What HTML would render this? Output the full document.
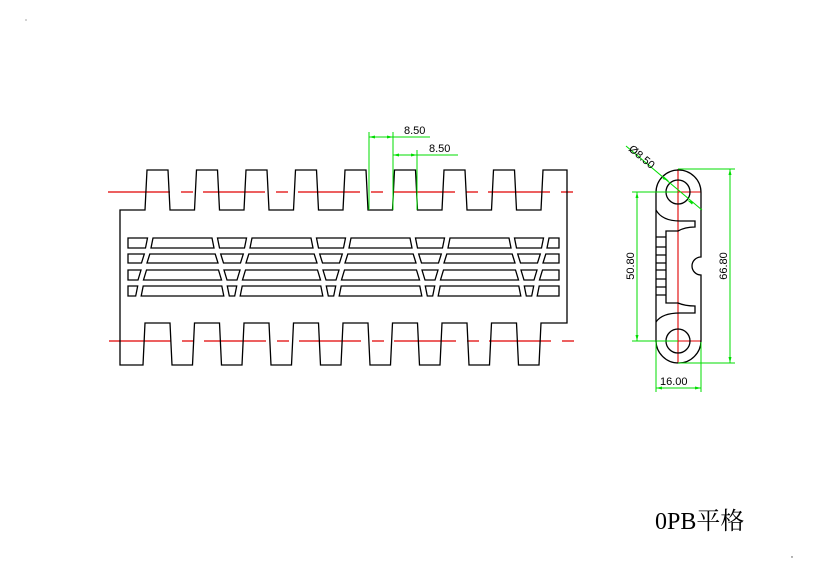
<!DOCTYPE html>
<html><head><meta charset="utf-8"><style>
html,body{margin:0;padding:0;background:#fff;}
svg{display:block;}
</style></head><body>
<svg width="819" height="579" viewBox="0 0 819 579" xmlns="http://www.w3.org/2000/svg">
<rect width="819" height="579" fill="#fff"/>
<circle cx="26" cy="20" r="0.6" fill="#666"/>
<circle cx="792" cy="557" r="0.7" fill="#444"/>
<g stroke="#e00000" stroke-width="1.2" fill="none">
<line x1="108" y1="192" x2="578" y2="192" stroke-dasharray="62 11 12 10"/>
<line x1="109" y1="341" x2="578" y2="341" stroke-dasharray="62 11 12 10"/>
</g>
<g stroke="#000" stroke-width="1.3" fill="none" stroke-linejoin="miter">
<path d="M120,210 H145 L147,170 H168 L170,210 H194.5 L196.5,170 H217.5 L219.5,210 H244 L246,170 H267 L269,210 H293.5 L295.5,170 H316.5 L318.5,210 H343 L345,170 H366 L368,210 H392.5 L394.5,170 H415.5 L417.5,210 H442 L444,170 H465 L467,210 H491.5 L493.5,170 H514.5 L516.5,210 H541 L543,170 H567 V323 H541 L539,365 H518.5 L516.5,323 H491.5 L489.5,365 H469 L467,323 H442 L440,365 H419.5 L417.5,323 H392.5 L390.5,365 H370 L368,323 H343 L341,365 H320.5 L318.5,323 H293.5 L291.5,365 H271 L269,323 H244 L242,365 H221.5 L219.5,323 H194.5 L192.5,365 H172 L170,323 H145 L143,365 H120 Z"/>
<polygon points="128,238 147.5,238 145.5,248 128,248"/>
<polygon points="217.5,238 246.5,238 244.5,248 219.5,248"/>
<polygon points="316.5,238 345.5,238 343.5,248 318.5,248"/>
<polygon points="415.5,238 444.5,238 442.5,248 417.5,248"/>
<polygon points="514.5,238 543.5,238 541.5,248 516.5,248"/>
<polygon points="153,238 212,238 214,248 151,248"/>
<polygon points="252,238 311,238 313,248 250,248"/>
<polygon points="351,238 410,238 412,248 349,248"/>
<polygon points="450,238 509,238 511,248 448,248"/>
<polygon points="549,238 559,238 559,248 547,248"/>
<polygon points="128,254 144.3,254 141.5,263 128,263"/>
<polygon points="220.7,254 243.3,254 240.5,263 223.5,263"/>
<polygon points="319.7,254 342.3,254 339.5,263 322.5,263"/>
<polygon points="418.7,254 441.3,254 438.5,263 421.5,263"/>
<polygon points="517.7,254 540.3,254 537.5,263 520.5,263"/>
<polygon points="149.8,254 215.2,254 218,263 147,263"/>
<polygon points="248.8,254 314.2,254 317,263 246,263"/>
<polygon points="347.8,254 413.2,254 416,263 345,263"/>
<polygon points="446.8,254 512.2,254 515,263 444,263"/>
<polygon points="545.8,254 559,254 559,263 543,263"/>
<polygon points="128,270 141,270 138,280 128,280"/>
<polygon points="224,270 240,270 237,280 227,280"/>
<polygon points="323,270 339,270 336,280 326,280"/>
<polygon points="422,270 438,270 435,280 425,280"/>
<polygon points="521,270 537,270 534,280 524,280"/>
<polygon points="146.5,270 218.5,270 221.5,280 143.5,280"/>
<polygon points="245.5,270 317.5,270 320.5,280 242.5,280"/>
<polygon points="344.5,270 416.5,270 419.5,280 341.5,280"/>
<polygon points="443.5,270 515.5,270 518.5,280 440.5,280"/>
<polygon points="542.5,270 559,270 559,280 539.5,280"/>
<polygon points="128,286 137.7,286 135.7,296 128,296"/>
<polygon points="227.3,286 236.7,286 234.7,296 229.3,296"/>
<polygon points="326.3,286 335.7,286 333.7,296 328.3,296"/>
<polygon points="425.3,286 434.7,286 432.7,296 427.3,296"/>
<polygon points="524.3,286 533.7,286 531.7,296 526.3,296"/>
<polygon points="143.2,286 221.8,286 223.8,296 141.2,296"/>
<polygon points="242.2,286 320.8,286 322.8,296 240.2,296"/>
<polygon points="341.2,286 419.8,286 421.8,296 339.2,296"/>
<polygon points="440.2,286 518.8,286 520.8,296 438.2,296"/>
<polygon points="539.2,286 559,286 559,296 537.2,296"/>
</g>
<g stroke="#00dd00" stroke-width="1" fill="none">
<line x1="369" y1="132" x2="369" y2="210"/>
<line x1="393" y1="132" x2="393" y2="210"/>
<line x1="417" y1="150" x2="417" y2="210"/>
<line x1="369" y1="137" x2="430" y2="137"/>
<line x1="393" y1="155" x2="458" y2="155"/>
</g>
<g fill="#00dd00">
<polygon points="369,137 375,135.5 375,138.5"/>
<polygon points="393,137 387,135.5 387,138.5"/>
<polygon points="393,155 399,153.5 399,156.5"/>
<polygon points="417,155 411,153.5 411,156.5"/>
</g>
<g font-family="Liberation Sans, sans-serif" font-size="11" fill="#000">
<text x="404" y="134">8.50</text>
<text x="429" y="152">8.50</text>
</g>
<g stroke="#e00000" stroke-width="1.1" fill="none">
<line x1="678" y1="169" x2="678" y2="363"/>
<line x1="656" y1="192" x2="701" y2="192"/>
<line x1="656" y1="341" x2="701" y2="341"/>
</g>
<g stroke="#000" stroke-width="1.3" fill="none">
<path d="M656,192.5 A22.5,22.5 0 0 1 701,192.5 V257 A9,9 0 0 0 701,275 V340.5 A22.5,22.5 0 0 1 656,340.5 Z"/>
<circle cx="678" cy="192" r="12"/>
<circle cx="678" cy="341" r="12"/>
<path d="M656,210 Q662,221 680,221 H695 V227 Q685,227 678,231 H666 V303 H678 Q685,306 695,306 V313 H680 Q662,313 656,322"/>
<path d="M656,237 H666 M656,247 H666 M656,255 H666 M656,263 H666 M656,270 H666 M656,279 H666 M656,287 H666 M656,295 H666"/>
</g>
<g stroke="#00dd00" stroke-width="1" fill="none">
<line x1="678" y1="169" x2="735" y2="169"/>
<line x1="678" y1="363" x2="735" y2="363"/>
<line x1="730" y1="169" x2="730" y2="363"/>
<line x1="632" y1="192" x2="678" y2="192"/>
<line x1="632" y1="341" x2="678" y2="341"/>
<line x1="637" y1="192" x2="637" y2="341"/>
<line x1="656" y1="342" x2="656" y2="392"/>
<line x1="701" y1="342" x2="701" y2="392"/>
<line x1="656" y1="388" x2="701" y2="388"/>
<line x1="626" y1="146" x2="702" y2="210"/>
</g>
<g fill="#00dd00">
<polygon points="730,169 728.5,175 731.5,175"/>
<polygon points="730,363 728.5,357 731.5,357"/>
<polygon points="637,192 635.5,198 638.5,198"/>
<polygon points="637,341 635.5,335 638.5,335"/>
<polygon points="656,388 662,386.5 662,389.5"/>
<polygon points="701,388 695,386.5 695,389.5"/>
<polygon points="669,181 664,176.5 662.5,179"/>
<polygon points="687,200 692,204.5 693.5,202"/>
</g>
<g font-family="Liberation Sans, sans-serif" font-size="11" fill="#000">
<text x="660" y="385">16.00</text>
<text transform="translate(727,266) rotate(-90)" text-anchor="middle">66.80</text>
<text transform="translate(634,266) rotate(-90)" text-anchor="middle">50.80</text>
<text transform="translate(628,150) rotate(40)">Ø8.50</text>
</g>
<text x="655" y="529" font-family="Liberation Serif, Noto Serif CJK SC, serif" font-size="24" fill="#000">0PB平格</text>
</svg>
</body></html>
